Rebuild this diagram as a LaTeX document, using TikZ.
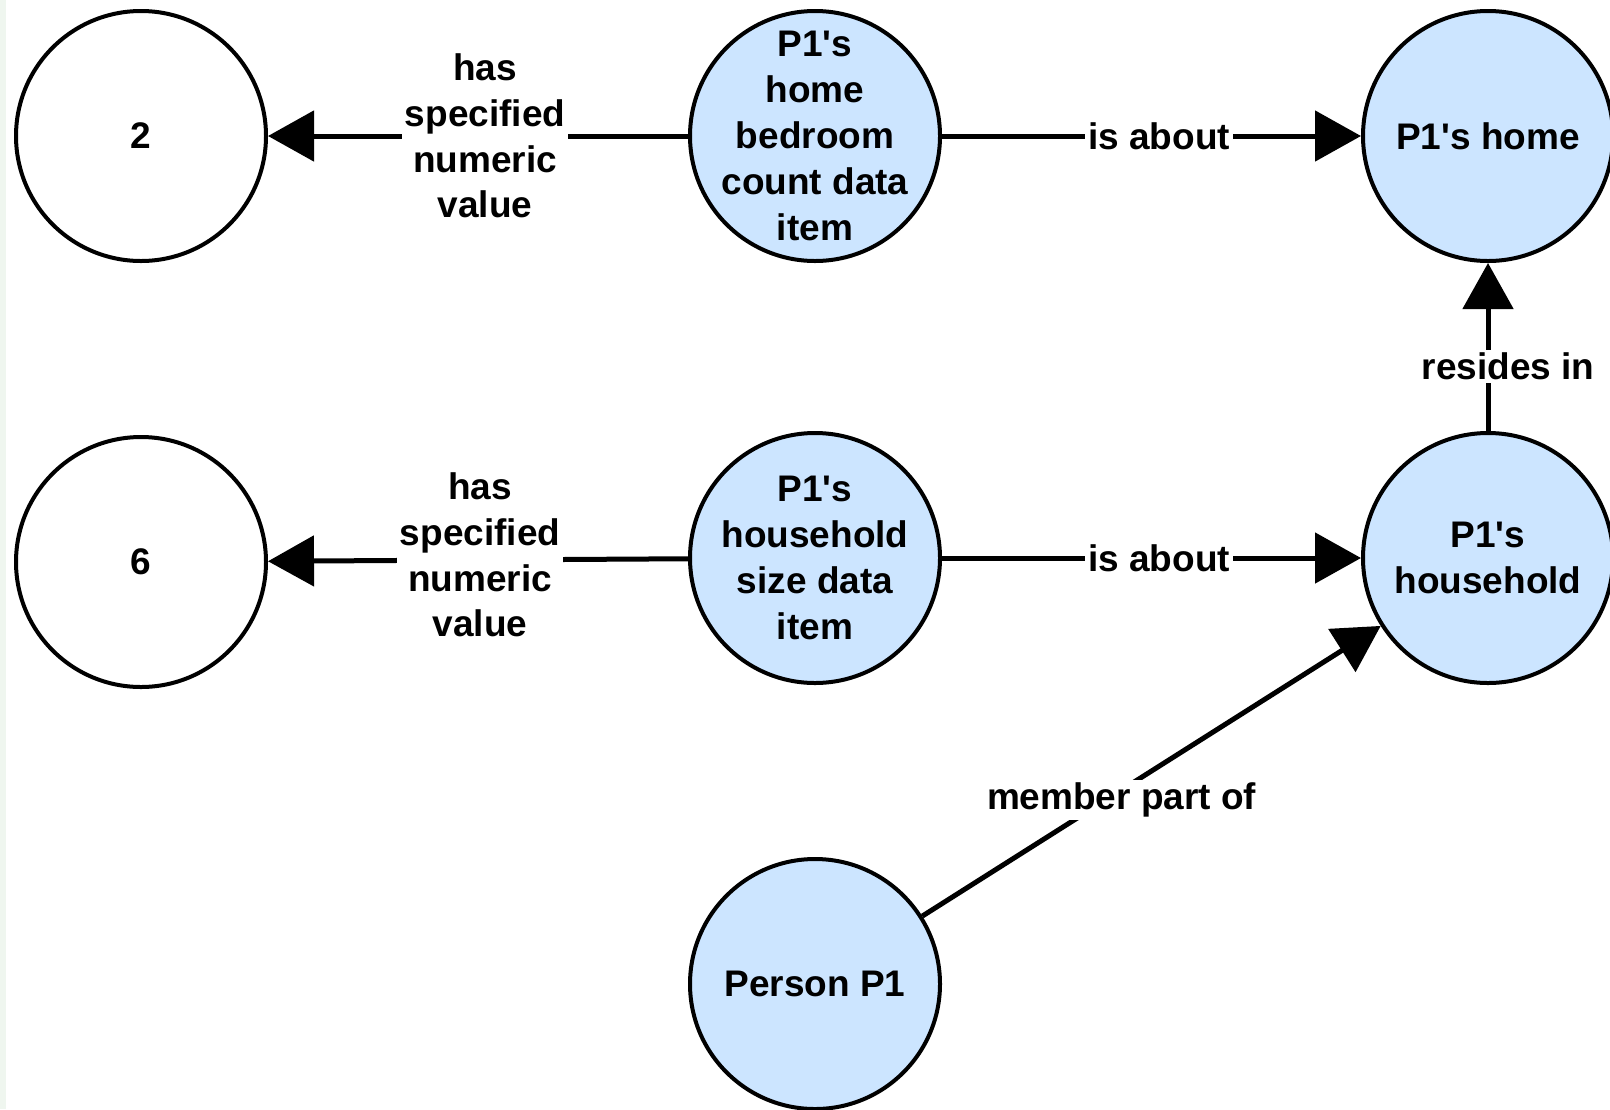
\documentclass[tikz,border=0pt]{standalone}
\usepackage{fontspec}
\setmainfont{Liberation Sans}[Ligatures=TeXOff]
\usetikzlibrary{arrows.meta}
\definecolor{nodeblue}{HTML}{CCE5FF}
\definecolor{stripgreen}{HTML}{EFF6EF}
\begin{document}
\begin{tikzpicture}[x=0.5pt,y=-0.5pt,
  txt/.style={font=\fontsize{18.5}{22.9}\selectfont\bfseries, align=center},
  concept/.style={circle, draw=black, line width=2pt, minimum size=125pt, inner sep=0pt},
  valuenode/.style={concept, fill=white},
  entity/.style={concept, fill=nodeblue},
  caption/.style={label={[txt]center:#1}},
  rel/.style={draw=black, line width=2.5pt, -{Triangle[length=23pt,width=25pt]}},
  lbl/.style={txt, fill=white, inner sep=1.5pt}
]
\clip (0,0) rectangle (1610,1109);
\fill[white] (0,0) rectangle (1610,1109);
\fill[stripgreen] (0,0) rectangle (6,1109);

% nodes
\node[valuenode, caption={2}] (two) at (141,136) {};
\node[valuenode, caption={6}] (six) at (141,562) {};
\node[entity, caption={P1's\\home\\bedroom\\count data\\item}] (bed) at (815,136) {};
\node[entity, caption={P1's\\household\\size data\\item}] (size) at (815,558) {};
\node[entity, caption={P1's home}] (home) at (1488,136) {};
\node[entity, caption={P1's\\household}] (hh) at (1488,558) {};
\node[entity, caption={Person P1}] (person) at (815,984) {};

% relations
\draw[rel] (bed) -- node[lbl, pos=0.483] {has\\specified\\numeric\\value} (two);
\draw[rel] (size) -- node[lbl, pos=0.495, yshift=2.5pt] {has\\specified\\numeric\\value} (six);
\draw[rel] (bed) -- node[lbl, pos=0.518] {is about} (home);
\draw[rel] (size) -- node[lbl, pos=0.518] {is about} (hh);
\draw[rel] (hh) -- node[lbl, pos=0.385, xshift=10pt] {resides in} (home);
\draw[rel] (person) -- node[lbl, pos=0.4, xshift=8pt] {member part of} (hh);
\end{tikzpicture}
\end{document}
